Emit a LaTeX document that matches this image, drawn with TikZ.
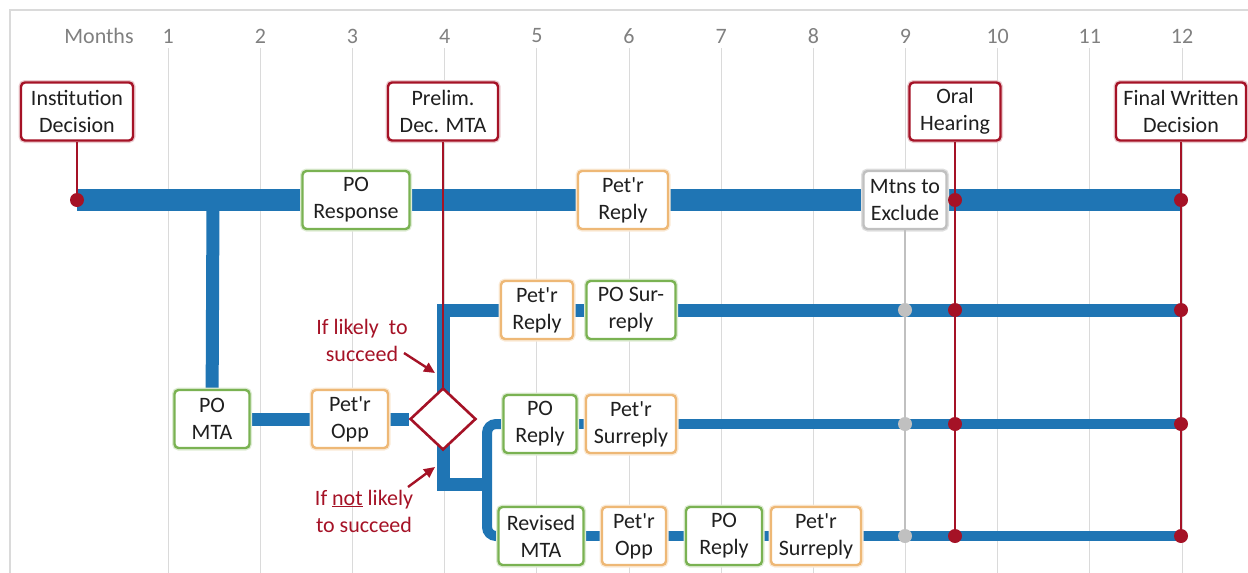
\documentclass[tikz,border=0pt]{standalone}
\usepackage{fontspec}
\setmainfont{Carlito}
\usetikzlibrary{shapes.geometric,arrows.meta,backgrounds}
\definecolor{barblue}{RGB}{31,117,180}
\definecolor{evred}{RGB}{165,18,38}
\definecolor{pogreen}{RGB}{122,178,82}
\definecolor{petorange}{RGB}{238,184,118}
\definecolor{mtngray}{RGB}{192,192,192}
\definecolor{gridgray}{RGB}{218,218,218}
\definecolor{labgray}{RGB}{128,128,128}
\newcommand{\petr}{Pet\textquotesingle r}

\begin{document}
\begin{tikzpicture}[x=1pt,y=-1pt,font=\fontsize{22}{27}\selectfont]
  \tikzstyle{box} = [draw, rounded corners=4pt, line width=2.4pt, fill=white, align=center,
                     minimum height=58pt, inner xsep=3pt, inner ysep=2pt, text=black!88]
  \tikzstyle{evbox} = [box, draw=evred, preaction={draw=evred!22, line width=5pt}]
  \tikzstyle{pobox} = [box, draw=pogreen, preaction={draw=pogreen!25, line width=5pt}]
  \tikzstyle{petbox} = [box, draw=petorange, preaction={draw=petorange!30, line width=5pt}]
  \tikzstyle{mtnbox} = [box, draw=mtngray, preaction={draw=black!12, line width=5pt}]
  \tikzstyle{bar} = [draw=barblue, line width=22pt]
  \tikzstyle{branch} = [draw=barblue, line width=13pt]
  \tikzstyle{track} = [draw=barblue, line width=10pt]
  \tikzstyle{evline} = [draw=evred, line width=2.6pt]
  \tikzstyle{mtnline} = [draw=mtngray, line width=2.6pt]
  \tikzstyle{evdot} = [circle, fill=evred, inner sep=0pt, minimum size=14pt]
  \tikzstyle{mtndot} = [circle, fill=mtngray, inner sep=0pt, minimum size=14pt]
  \tikzstyle{note} = [text=evred, align=center]
  \tikzstyle{ann} = [evred, line width=2.4pt, -{Triangle[length=11pt,width=10pt]}]

  \useasboundingbox (0,0) rectangle (1248,573);

  % boxes
  \node[evbox, minimum width=112pt] (inst) at (77,111.5) {Institution\\Decision};
  \node[evbox, minimum width=110pt] (pdm) at (443,111.5) {Prelim.\\Dec. MTA};
  \node[evbox, minimum width=91pt] (oh) at (955,111.5) {Oral\\Hearing};
  \node[evbox, minimum width=130pt] (fwd) at (1181,111.5) {Final Written\\Decision};

  \node[pobox, minimum width=107pt] (resp) at (356,200) {PO\\Response};
  \node[petbox, minimum width=90pt] (rep1) at (623,200) {\petr\\Reply};
  \node[mtnbox, minimum width=83pt] (mtn) at (905,200) {Mtns to\\Exclude};

  \node[petbox, minimum width=72pt] (rep2) at (537,310) {\petr\\Reply};
  \node[pobox, minimum width=89pt] (sur2) at (631,310) {PO Sur-\\reply};

  \node[pobox, minimum width=75pt] (mta) at (212,419) {PO\\MTA};
  \node[petbox, minimum width=76pt] (opp1) at (350,419) {\petr\\Opp};
  \node[diamond, draw=evred, line width=2.6pt, fill=white, minimum width=66pt,
        minimum height=62pt, inner sep=0pt] (dia) at (443,419) {};

  \node[pobox, minimum width=73pt] (rep3) at (540,424) {PO\\Reply};
  \node[petbox, minimum width=90pt] (sur3) at (631,424) {\petr\\Surreply};

  \node[pobox, minimum width=85pt] (rev) at (541,536) {Revised\\MTA};
  \node[petbox, minimum width=64pt] (opp4) at (634,536) {\petr\\Opp};
  \node[pobox, minimum width=76pt] (rep4) at (724,536) {PO\\Reply};
  \node[petbox, minimum width=90pt] (sur4) at (816,536) {\petr\\Surreply};

  \node[note] (lk) at (362,340) {If likely~ to\\succeed};
  \node[note] (nlk) at (364,511) {If \underline{not} likely\\to succeed};

  \coordinate (start) at (77,200);
  \coordinate (tee) at (213,200);
  \coordinate (brc) at (487,484);
  \foreach \i/\y in {1/200,2/310,3/424,4/536} {
    \coordinate (oh\i) at (955,\y);
    \coordinate (fw\i) at (1181,\y);
  }
  \foreach \i/\y in {2/310,3/424,4/536}
    \coordinate (mx\i) at (905,\y);

  \begin{scope}[on background layer]
    % frame and month grid
    \draw[gridgray, line width=1.2pt] (10,573) -- (10,10) -- (1248,10);
    \node[text=labgray] (mlab) at (99,36) {Months};
    \foreach \m in {1,...,12} {
      \node[text=labgray] (m\m) at (76+92.17*\m,36) {\m};
      \draw[gridgray, line width=1pt] (76+92.17*\m,48) -- (76+92.17*\m,573);
    }
    % blue tracks
    \draw[bar] (start) -- (resp) -- (rep1) -- (mtn) -- (fw1);
    \draw[branch] (tee) -- (mta);
    \draw[branch] (mta) -- (opp1) -- (dia);
    \draw[branch] (dia.center) |- (rep2);
    \draw[branch] (rep2) -- (sur2) -- (fw2);
    \draw[branch] (dia.center) |- (brc);
    \draw[track, rounded corners=9pt] (rep3) -| (brc) |- (rev);
    \draw[track] (rep3) -- (sur3) -- (fw3);
    \draw[track] (rev) -- (opp4) -- (rep4) -- (sur4) -- (fw4);
  \end{scope}

  % event lines
  \draw[evline] (inst) -- (start);
  \draw[evline] (pdm) -- (dia);
  \draw[evline] (oh) -- (oh4);
  \draw[evline] (fwd) -- (fw4);
  \draw[mtnline] (mtn) -- (mx4);

  \node[evdot] (start-dot) at (start) {};
  \foreach \i in {1,...,4} {
    \node[evdot] (oh\i-dot) at (oh\i) {};
    \node[evdot] (fw\i-dot) at (fw\i) {};
  }
  \foreach \i in {2,3,4}
    \node[mtndot] (mx\i-dot) at (mx\i) {};

  % notes
  \coordinate (lk-tail) at (404,353);
  \coordinate (lk-tip) at (435,373);
  \coordinate (nlk-tail) at (408,487);
  \coordinate (nlk-tip) at (435,467);
  \draw[ann] (lk-tail) -- (lk-tip);
  \draw[ann] (nlk-tail) -- (nlk-tip);
\end{tikzpicture}
\end{document}
